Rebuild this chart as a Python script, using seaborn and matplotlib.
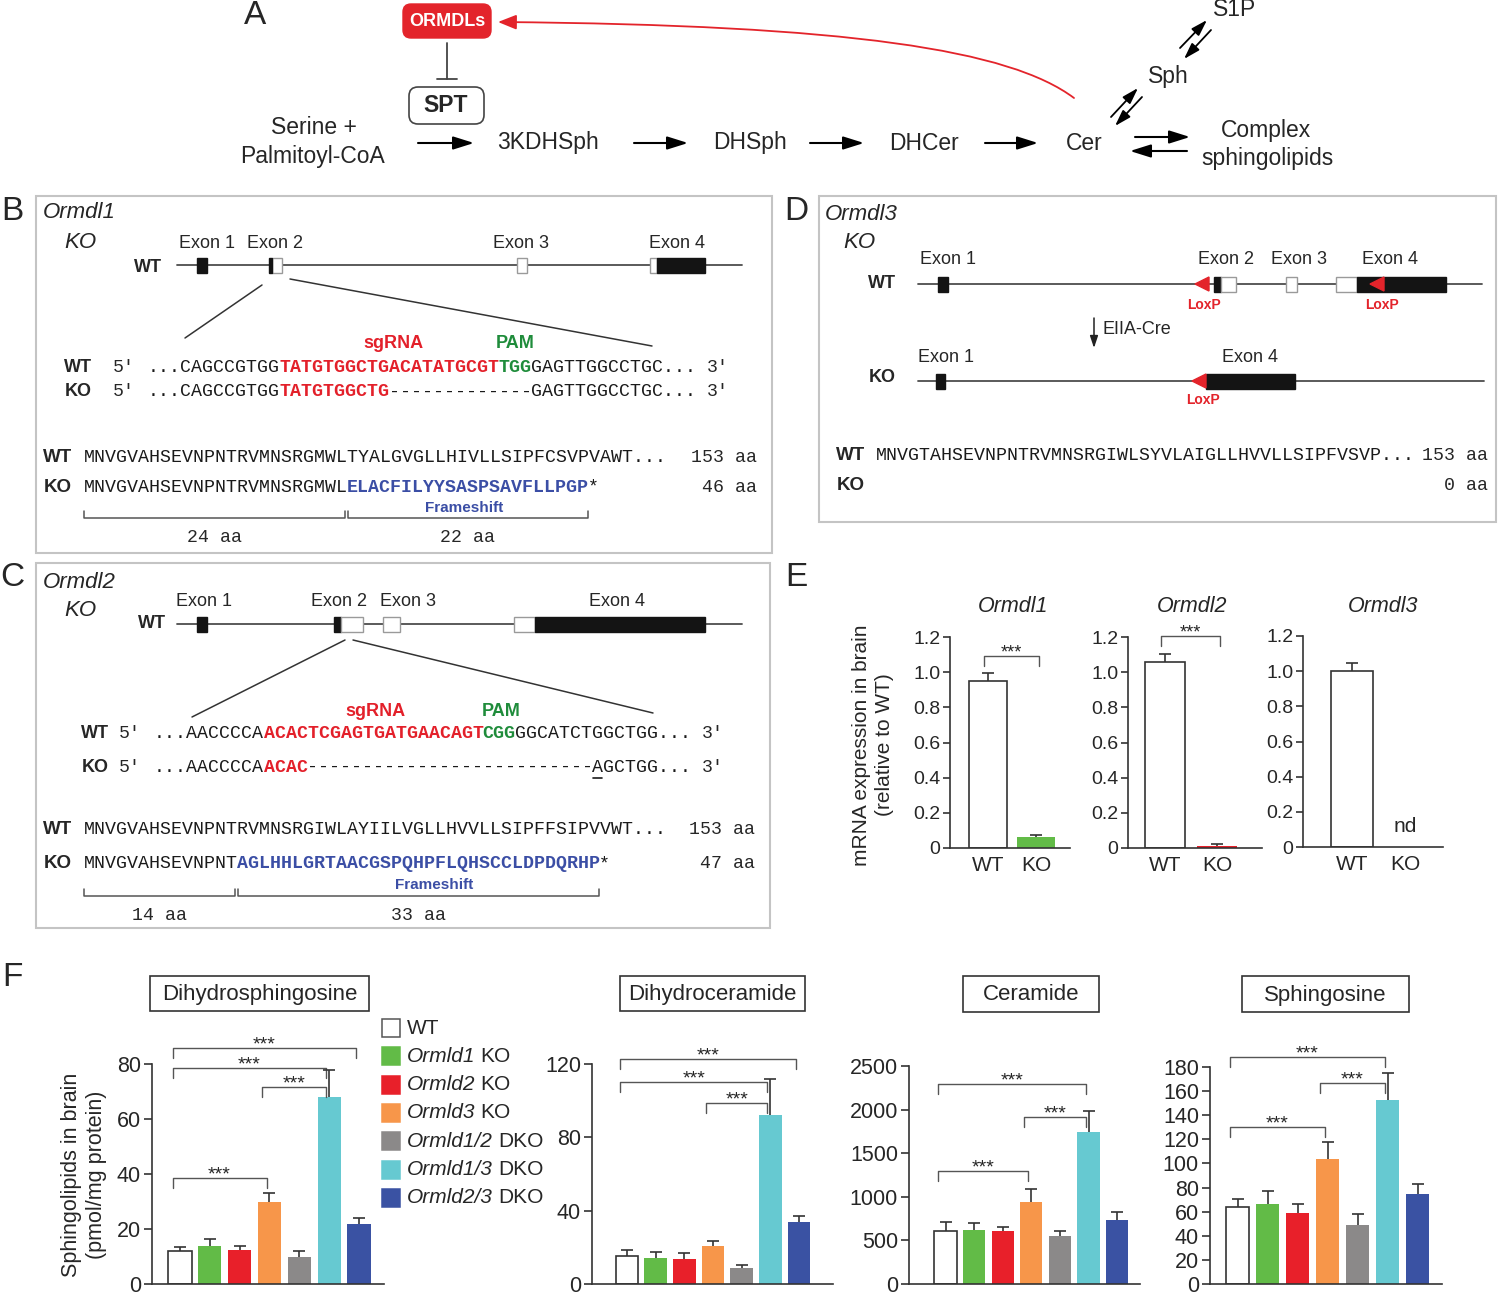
import matplotlib
matplotlib.use("Agg")
import matplotlib.pyplot as plt
import numpy as np
import pandas as pd
import seaborn as sns
from matplotlib.patches import Rectangle, FancyBboxPatch, Polygon, FancyArrowPatch
from matplotlib.path import Path

sns.set_theme(style="ticks")
plt.rcParams["font.family"] = ["Liberation Sans", "DejaVu Sans"]

# ── data ─────────────────────────────────────────────────────────────────────
GROUPS = ["WT", "Ormld1 KO", "Ormld2 KO", "Ormld3 KO",
          "Ormld1/2 DKO", "Ormld1/3 DKO", "Ormld2/3 DKO"]
GROUP_COLORS = ["#ffffff", "#62bb47", "#e8202a", "#f7964a",
                "#8b8989", "#66c9d1", "#3a52a3"]

DHSPH_MEAN = [12, 14, 12.5, 30, 10, 68, 22]
DHSPH_SEM = [1.5, 2.5, 1.5, 3, 2, 10, 2]
DHSPH_SIG = [(0, 3, 38.5), (3, 5, 71.5), (0, 5, 78.5), (0, 6, 86)]

DHCER_MEAN = [15.5, 14, 13.5, 21, 9, 92, 34]
DHCER_SEM = [3, 3.5, 3.5, 2.5, 1.5, 20, 3]
DHCER_SIG = [(3, 5, 99), (0, 5, 110), (0, 6, 123)]

CER_MEAN = [610, 620, 605, 940, 555, 1740, 730]
CER_SEM = [100, 80, 50, 145, 50, 245, 90]
CER_SIG = [(0, 3, 1300), (3, 5, 1920), (0, 5, 2295)]

SPH_MEAN = [64, 66, 59, 104, 49, 153, 75]
SPH_SEM = [6.5, 11, 7, 14, 9, 22, 8]
SPH_SIG = [(0, 3, 130), (3, 5, 167), (0, 5, 188)]

MRNA_GENES = ["Ormdl1", "Ormdl2", "Ormdl3"]
MRNA_WT = [0.95, 1.055, 1.0]
MRNA_WT_SEM = [0.045, 0.046, 0.046]
MRNA_KO = [0.06, 0.012, 0.0]
MRNA_KO_SEM = [0.013, 0.011, 0.0]
MRNA_KO_COLORS = ["#62bb47", "#e8202a", "#ffffff"]
MRNA_SIG = [1.094, 1.203, None]

B_WT_DNA = [("...CAGCCGTGG", "k"), ("TATGTGGCTGACATATGCGT", "r"), ("TGG", "g"), ("GAGTTGGCCTGC...", "k")]
B_KO_DNA = [("...CAGCCGTGG", "k"), ("TATGTGGCTG", "r"), ("-" * 13, "k"), ("GAGTTGGCCTGC...", "k")]
B_WT_PROT = [("MNVGVAHSEVNPNTRVMNSRGMWLTYALGVGLLHIVLLSIPFCSVPVAWT...", "k")]
B_KO_PROT = [("MNVGVAHSEVNPNTRVMNSRGMWL", "k"), ("ELACFILYYSASPSAVFLLPGP", "b"), ("*", "k")]
C_WT_DNA = [("...AACCCCA", "k"), ("ACACTCGAGTGATGAACAGT", "r"), ("CGG", "g"), ("GGCATCTGGCTGG...", "k")]
C_KO_DNA = [("...AACCCCA", "k"), ("ACAC", "r"), ("-" * 26, "k"), ("AGCTGG...", "k")]
C_WT_PROT = [("MNVGVAHSEVNPNTRVMNSRGIWLAYIILVGLLHVVLLSIPFFSIPVVWT...", "k")]
C_KO_PROT = [("MNVGVAHSEVNPNT", "k"), ("AGLHHLGRTAACGSPQHPFLQHSCCLDPDQRHP", "b"), ("*", "k")]
D_WT_PROT = [("MNVGTAHSEVNPNTRVMNSRGIWLSYVLAIGLLHVVLLSIPFVSVP...", "k")]
SEQ_COLORS = {"k": "#1a1a1a", "r": "#e3202a", "g": "#1f8c3b", "b": "#3b4ea5"}

# ── canvas ───────────────────────────────────────────────────────────────────
W, H = 1500, 1295
fig = plt.figure(figsize=(W / 100, H / 100), dpi=100)
ax0 = fig.add_axes([0, 0, 1, 1])
ax0.set_xlim(0, W)
ax0.set_ylim(H, 0)
ax0.axis("off")
renderer = fig.canvas.get_renderer()

MONO = ["Liberation Mono", "DejaVu Sans Mono"]
CW = 10.95
MONO_PT = CW / (0.6 * 100 / 72)
RED = "#e3242b"


def txt(x, y, s, size=13, **kw):
    kw.setdefault("ha", "center")
    kw.setdefault("va", "center")
    return ax0.text(x, y, s, fontsize=size, **kw)


def arrow(x0, y0, x1, y1, ms=18, color="black", lw=1.5):
    ax0.annotate("", xy=(x1, y1), xytext=(x0, y0),
                 arrowprops=dict(arrowstyle="-|>,head_length=0.7,head_width=0.22",
                                 color=color, lw=lw, mutation_scale=ms,
                                 shrinkA=0, shrinkB=0))


def seq_row(x0, y, segments):
    i = 0
    for s, c in segments:
        ax0.text(x0 + i * CW, y, s, family=MONO, fontsize=MONO_PT, color=SEQ_COLORS[c],
                 fontweight="normal" if c == "k" else "bold", ha="left", va="center")
        i += len(s)
    return i


def gene_line(x0, x1, y):
    ax0.plot([x0, x1], [y, y], color="#4d4d4d", lw=1.3, zorder=1)


def exon(x0, x1, y, filled, h=15):
    ax0.add_patch(Rectangle((x0, y - h / 2), x1 - x0, h,
                            facecolor="#141414" if filled else "white",
                            edgecolor="#141414" if filled else "#9a9a9a", lw=1, zorder=2))


def loxp(x_tip, y, w=14, h=14):
    ax0.add_patch(Polygon([(x_tip, y), (x_tip + w, y - h / 2), (x_tip + w, y + h / 2)],
                          closed=True, color=RED, zorder=3))


def aa_bracket(x0, x1, y, label):
    ax0.plot([x0, x0, x1, x1], [y - 7, y, y, y - 7], color="#555555", lw=1.1)
    txt((x0 + x1) / 2, y + 19, label, size=MONO_PT, family=MONO)


def panel_box(x0, y0, x1, y1):
    ax0.add_patch(Rectangle((x0, y0), x1 - x0, y1 - y0, fill=False, edgecolor="#c4c4c4", lw=1.5))


# ── A: pathway ───────────────────────────────────────────────────────────────
txt(255, 16, "A", size=24)
ax0.add_patch(FancyBboxPatch((403, 4), 88, 34, boxstyle="round,pad=0,rounding_size=8",
                             facecolor=RED, edgecolor=RED))
txt(447, 21, "ORMDLs", size=13, color="white", fontweight="bold")
ax0.plot([447, 447], [43, 79], color="#444444", lw=1.3)
ax0.plot([437, 457], [79, 79], color="#444444", lw=1.3)
ax0.add_patch(FancyBboxPatch((409, 87), 75, 37, boxstyle="round,pad=0,rounding_size=9",
                             facecolor="white", edgecolor="#444444", lw=1.2))
txt(446, 105, "SPT", size=16.5, fontweight="bold")
txt(314, 128, "Serine +", size=16.5)
txt(313, 156, "Palmitoyl-CoA", size=16.5)
for s, x in [("3KDHSph", 548), ("DHSph", 750), ("DHCer", 924), ("Cer", 1084)]:
    txt(x, 143, s, size=16.5)
for a, b in [(418, 474), (634, 688), (810, 864), (985, 1038)]:
    arrow(a, 143, b, 143)
arrow(1135, 137, 1190, 137)
arrow(1187, 151, 1130, 151)
txt(1266, 131, "Complex", size=16.5)
txt(1267, 159, "sphingolipids", size=16.5)
txt(1168, 77, "Sph", size=16.5)
txt(1235, 10, "S1P", size=16.5)
arrow(1111, 117, 1138, 88, ms=14, lw=1.3)
arrow(1142, 97, 1115, 126, ms=14, lw=1.3)
arrow(1180, 48, 1207, 20, ms=14, lw=1.3)
arrow(1211, 30, 1184, 59, ms=14, lw=1.3)
curve = Path([(1074, 98), (1010, 50), (850, 25), (498, 22)],
             [Path.MOVETO, Path.CURVE4, Path.CURVE4, Path.CURVE4])
ax0.add_patch(FancyArrowPatch(path=curve, arrowstyle="-|>,head_length=0.7,head_width=0.28",
                              mutation_scale=16, color=RED, lw=1.3))

# ── B: Ormdl1 KO ─────────────────────────────────────────────────────────────
panel_box(36, 196, 772, 553)
txt(12, 212, "B", size=24)
txt(43, 213, "Ormdl1", size=16, fontstyle="italic", ha="left")
txt(64, 242, "KO", size=16, fontstyle="italic", ha="left")
txt(148, 267, "WT", size=13, fontweight="bold")
gene_line(177, 742, 265)
exon(197, 207, 265, True)
exon(272, 282, 265, False)
exon(269, 272, 265, True)
exon(517, 527, 265, False)
exon(650, 657, 265, False)
exon(657, 705, 265, True)
for s, x in [("Exon 1", 207), ("Exon 2", 275), ("Exon 3", 521), ("Exon 4", 677)]:
    txt(x, 243, s, size=13)
ax0.plot([262, 185], [285, 338], color="#333333", lw=1.1)
ax0.plot([290, 652], [279, 346], color="#333333", lw=1.1)
txt(393, 344, "sgRNA", size=13, color=SEQ_COLORS["r"], fontweight="bold")
txt(515, 344, "PAM", size=13, color=SEQ_COLORS["g"], fontweight="bold")
for y, lab, segs in [(368, "WT", B_WT_DNA), (392, "KO", B_KO_DNA)]:
    txt(78, y, lab, size=13, fontweight="bold")
    txt(113, y, "5'", size=MONO_PT, family=MONO, ha="left")
    n = seq_row(148, y, segs)
    txt(148 + (n + 1) * CW, y, "3'", size=MONO_PT, family=MONO, ha="left")
txt(58, 458, "WT", size=13.5, fontweight="bold")
seq_row(84, 458, B_WT_PROT)
txt(757, 458, "153 aa", size=MONO_PT, family=MONO, ha="right")
txt(58, 487, "KO", size=13.5, fontweight="bold")
seq_row(84, 487, B_KO_PROT)
txt(757, 487, "46 aa", size=MONO_PT, family=MONO, ha="right")
txt(464, 508, "Frameshift", size=11, color=SEQ_COLORS["b"], fontweight="bold")
aa_bracket(84, 84 + 24 * CW - 2, 518, "24 aa")
aa_bracket(84 + 24 * CW + 1, 84 + 46 * CW, 518, "22 aa")

# ── C: Ormdl2 KO ─────────────────────────────────────────────────────────────
panel_box(36, 563, 770, 928)
txt(12, 578, "C", size=24)
txt(43, 583, "Ormdl2", size=16, fontstyle="italic", ha="left")
txt(64, 611, "KO", size=16, fontstyle="italic", ha="left")
txt(152, 624, "WT", size=13, fontweight="bold")
gene_line(177, 742, 624)
exon(197, 207, 624, True)
exon(334, 341, 624, True)
exon(341, 363, 624, False)
exon(383, 400, 624, False)
exon(514, 535, 624, False)
exon(535, 705, 624, True)
for s, x in [("Exon 1", 204), ("Exon 2", 339), ("Exon 3", 408), ("Exon 4", 617)]:
    txt(x, 601, s, size=13)
ax0.plot([345, 192], [640, 717], color="#333333", lw=1.1)
ax0.plot([353, 653], [640, 713], color="#333333", lw=1.1)
txt(375, 712, "sgRNA", size=13, color=SEQ_COLORS["r"], fontweight="bold")
txt(501, 712, "PAM", size=13, color=SEQ_COLORS["g"], fontweight="bold")
for y, lab, segs in [(733, "WT", C_WT_DNA), (767, "KO", C_KO_DNA)]:
    txt(95, y, lab, size=13, fontweight="bold")
    txt(119, y, "5'", size=MONO_PT, family=MONO, ha="left")
    n = seq_row(154, y, segs)
    txt(154 + (n + 1) * CW, y, "3'", size=MONO_PT, family=MONO, ha="left")
ins = 154 + (len(C_KO_DNA[0][0]) + len(C_KO_DNA[1][0]) + len(C_KO_DNA[2][0])) * CW
ax0.plot([ins + 1, ins + CW - 1], [778, 778], color="#1a1a1a", lw=1.2)
txt(58, 829, "WT", size=13.5, fontweight="bold")
seq_row(84, 829, C_WT_PROT)
txt(755, 829, "153 aa", size=MONO_PT, family=MONO, ha="right")
txt(58, 864, "KO", size=13.5, fontweight="bold")
seq_row(84, 864, C_KO_PROT)
txt(755, 864, "47 aa", size=MONO_PT, family=MONO, ha="right")
txt(434, 885, "Frameshift", size=11, color=SEQ_COLORS["b"], fontweight="bold")
aa_bracket(84, 84 + 14 * CW - 2, 896, "14 aa")
aa_bracket(84 + 14 * CW + 1, 84 + 47 * CW, 896, "33 aa")

# ── D: Ormdl3 KO ─────────────────────────────────────────────────────────────
panel_box(819, 196, 1496, 522)
txt(796, 212, "D", size=24)
txt(825, 214, "Ormdl3", size=16, fontstyle="italic", ha="left")
txt(843, 242, "KO", size=16, fontstyle="italic", ha="left")
txt(882, 283, "WT", size=13, fontweight="bold")
gene_line(918, 1482, 284)
exon(938, 948, 284, True)
loxp(1195, 284)
exon(1214, 1221, 284, True)
exon(1221, 1236, 284, False)
exon(1286, 1297, 284, False)
exon(1336, 1357, 284, False)
exon(1357, 1446, 284, True)
loxp(1370, 284)
for s, x in [("Exon 1", 948), ("Exon 2", 1226), ("Exon 3", 1299), ("Exon 4", 1390)]:
    txt(x, 260, s, size=13)
txt(1204, 305, "LoxP", size=10, color=RED, fontweight="bold")
txt(1382, 305, "LoxP", size=10, color=RED, fontweight="bold")
ax0.annotate("", xy=(1094, 348), xytext=(1094, 318),
             arrowprops=dict(arrowstyle="-|>,head_length=0.6,head_width=0.2", color="#222222",
                             lw=1.1, mutation_scale=12, shrinkA=0, shrinkB=0))
txt(1102, 330, "EIIA-Cre", size=13, ha="left")
txt(882, 378, "KO", size=13, fontweight="bold")
gene_line(918, 1484, 381)
exon(936, 945, 381, True)
loxp(1192, 381)
exon(1206, 1295, 381, True)
txt(946, 357, "Exon 1", size=13)
txt(1250, 357, "Exon 4", size=13)
txt(1203, 400, "LoxP", size=10, color=RED, fontweight="bold")
txt(851, 456, "WT", size=13.5, fontweight="bold")
seq_row(876, 456, D_WT_PROT)
txt(1488, 456, "153 aa", size=MONO_PT, family=MONO, ha="right")
txt(851, 486, "KO", size=13.5, fontweight="bold")
txt(1488, 486, "0 aa", size=MONO_PT, family=MONO, ha="right")


# ── bar chart helpers ────────────────────────────────────────────────────────
def axes_px(x_left, x_right, y_zero, y_top):
    ax = fig.add_axes([x_left / W, 1 - y_zero / H, (x_right - x_left) / W, (y_zero - y_top) / H])
    ax.set_facecolor("none")
    sns.despine(ax=ax)
    for sp in ("left", "bottom"):
        ax.spines[sp].set_color("#333333")
        ax.spines[sp].set_linewidth(1.2)
    return ax


def upper_errorbars(ax, x, y, err):
    eb = ax.errorbar(x, y, yerr=[np.zeros(len(x)), err], fmt="none", ecolor="#333333",
                     elinewidth=1.2, capsize=4, capthick=1.2, zorder=3)
    eb[1][0].set_visible(False)  # hide the cap sitting on top of the bar


def sig_bracket(ax, i, j, h, px, off_l=-0.25, off_r=-0.1, size=14):
    xl, xr = i + off_l, j + off_r
    ax.plot([xl, xl, xr, xr], [h - 10 * px, h, h, h - 10 * px], color="#555555", lw=1,
            clip_on=False)
    ax.text((xl + xr) / 2, h + 3 * px, "***", ha="center", va="center",
            fontsize=size, clip_on=False)


def lipid_panel(x_left, x_right, y_zero, y_top, c0, step, ymax, yticks,
                means, sems, sig, title, tbox):
    ax = axes_px(x_left, x_right, y_zero, y_top)
    df = pd.DataFrame({"group": GROUPS, "value": means})
    sns.barplot(data=df, x="group", y="value", hue="group", order=GROUPS, hue_order=GROUPS,
                palette=dict(zip(GROUPS, GROUP_COLORS)), width=0.78, saturation=1,
                errorbar=None, legend=False, ax=ax)
    for p, c in zip(ax.patches, GROUP_COLORS):
        if c == "#ffffff":
            p.set_edgecolor("#333333")
            p.set_linewidth(1.2)
        else:
            p.set_linewidth(0)
    upper_errorbars(ax, np.arange(len(GROUPS)), means, sems)
    ax.set_xlim((x_left - c0) / step, (x_right - c0) / step)
    ax.set_ylim(0, ymax)
    ax.set_yticks(yticks)
    ax.set_xticks([])
    ax.set_xlabel("")
    ax.set_ylabel("")
    ax.tick_params(axis="y", length=6, width=1.2, color="#333333", labelsize=15.5, pad=2)
    px = ymax / (y_zero - y_top)
    for i, j, h in sig:
        sig_bracket(ax, i, j, h, px)
    bx0, by0, bx1, by1 = tbox
    ax0.add_patch(Rectangle((bx0, by0), bx1 - bx0, by1 - by0, fill=False,
                            edgecolor="#333333", lw=1.2))
    txt((bx0 + bx1) / 2, (by0 + by1) / 2 + 1, title, size=16)
    return ax


# ── E: mRNA ──────────────────────────────────────────────────────────────────
txt(796, 578, "E", size=24)
txt(873, 745, "mRNA expression in brain\n(relative to WT)", size=15, rotation=90,
    linespacing=1.3)
E_LAYOUT = [(950, 1070, 848, 637, 988, 48, 1013),
            (1128, 1262, 848, 637, 1165, 52, 1192),
            (1303, 1443, 847, 636, 1352, 53, 1383)]
for k, gene in enumerate(MRNA_GENES):
    xl, xr, yz, yt, c0, step, tx = E_LAYOUT[k]
    ax = axes_px(xl, xr, yz, yt)
    df = pd.DataFrame({"genotype": ["WT", "KO"], "value": [MRNA_WT[k], MRNA_KO[k]]})
    sns.barplot(data=df, x="genotype", y="value", hue="genotype", order=["WT", "KO"],
                hue_order=["WT", "KO"], palette={"WT": "#ffffff", "KO": MRNA_KO_COLORS[k]},
                width=0.78, saturation=1, errorbar=None, legend=False, ax=ax)
    ax.patches[0].set_edgecolor("#333333")
    ax.patches[0].set_linewidth(1.2)
    ax.patches[1].set_linewidth(0)
    vals = np.array([MRNA_WT[k], MRNA_KO[k]])
    errs = np.array([MRNA_WT_SEM[k], MRNA_KO_SEM[k]])
    keep = vals > 0
    upper_errorbars(ax, np.arange(2)[keep], vals[keep], errs[keep])
    ax.set_xlim((xl - c0) / step, (xr - c0) / step)
    ax.set_ylim(0, 1.2)
    ticks = [0, 0.2, 0.4, 0.6, 0.8, 1.0, 1.2]
    ax.set_yticks(ticks)
    ax.set_yticklabels(["0" if t == 0 else f"{t:.1f}" for t in ticks])
    ax.set_xlabel("")
    ax.set_ylabel("")
    ax.tick_params(axis="y", length=5, width=1.2, color="#333333", labelsize=14, pad=2)
    ax.tick_params(axis="x", length=0, labelsize=15, pad=6)
    if MRNA_SIG[k] is not None:
        sig_bracket(ax, 0, 1, MRNA_SIG[k], 1.2 / (yz - yt), off_l=-0.08, off_r=0.06, size=13)
    else:
        ax.text(1, 0.06, "nd", ha="center", va="bottom", fontsize=15)
    txt(tx, 606, gene, size=15.5, fontstyle="italic")

# ── F: sphingolipids ─────────────────────────────────────────────────────────
txt(12, 978, "F", size=24)
txt(84, 1175, "Sphingolipids in brain\n(pmol/mg protein)", size=15.5, rotation=90,
    linespacing=1.3)
lipid_panel(152, 384, 1284, 1064, 180, 29.83, 80, [0, 20, 40, 60, 80],
            DHSPH_MEAN, DHSPH_SEM, DHSPH_SIG, "Dihydrosphingosine", (150, 976, 369, 1011))
lipid_panel(592, 833, 1284, 1064, 627, 28.67, 120, [0, 40, 80, 120],
            DHCER_MEAN, DHCER_SEM, DHCER_SIG, "Dihydroceramide", (620, 976, 805, 1011))
lipid_panel(909, 1140, 1284, 1066, 945.5, 28.6, 2500, [0, 500, 1000, 1500, 2000, 2500],
            CER_MEAN, CER_SEM, CER_SIG, "Ceramide", (963, 976, 1099, 1012))
lipid_panel(1210, 1442, 1284, 1067, 1237.5, 30, 180, list(range(0, 181, 20)),
            SPH_MEAN, SPH_SEM, SPH_SIG, "Sphingosine", (1242, 976, 1409, 1012))

# legend for F (italic gene name + upright genotype)
for i, (g, c) in enumerate(zip(GROUPS, GROUP_COLORS)):
    y = 1028 + i * 28.3
    ax0.add_patch(Rectangle((382, y - 9), 18, 18, facecolor=c,
                            edgecolor="#555555" if c == "#ffffff" else c, lw=1.1))
    if g == "WT":
        txt(407, y, "WT", size=15, ha="left")
    else:
        gene, kind = g.split(" ")
        t = txt(407, y, gene, size=15, ha="left", fontstyle="italic")
        x_end = t.get_window_extent(renderer=renderer).x1
        txt(x_end + 5, y, kind, size=15, ha="left")

fig.savefig("out.png", dpi=100)
